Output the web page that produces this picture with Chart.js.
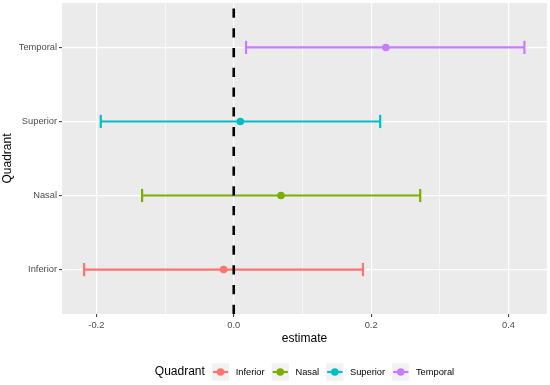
<!DOCTYPE html>
<html>
<head>
<meta charset="utf-8">
<script src="https://cdn.jsdelivr.net/npm/chart.js@4.4.1/dist/chart.umd.min.js"></script>
<style>
  html, body { margin: 0; padding: 0; background: #ffffff; }
  #wrap { width: 550px; height: 385px; }
</style>
</head>
<body>
<div id="wrap"><canvas id="c" width="550" height="385"></canvas></div>
<script>
// ---- data ----
const categories = ["Inferior", "Nasal", "Superior", "Temporal"];
const estimate   = [-0.0147, 0.0688, 0.0096, 0.2215];
const lower      = [-0.2178, -0.1334, -0.1936, 0.0179];
const upper      = [0.1881, 0.2714, 0.2132, 0.4231];
const colors     = ["#F8766D", "#7CAE00", "#00BFC4", "#C77CFF"];
const xTicks     = [-0.2, -0.1, 0.0, 0.1, 0.2, 0.3, 0.4];
const xMajor     = [-0.2, 0.0, 0.2, 0.4];
const refLine    = 0;

const FONT = "'Liberation Sans', Arial, sans-serif";
const isMajor = v => xMajor.some(m => Math.abs(m - v) < 1e-9);

// ---- datasets ----
const datasets = [];
// dashed reference line (on top)
datasets.push({
  type: 'line',
  data: [{x: refLine, y: 0.4}, {x: refLine, y: 4.6}],
  borderColor: '#000000',
  borderWidth: 2.6,
  borderDash: [9.3, 10.45],
  pointRadius: 0,
  order: 0
});
// estimate points
datasets.push({
  type: 'scatter',
  data: categories.map((c, i) => ({x: estimate[i], y: i + 1})),
  pointRadius: 3.8,
  pointBackgroundColor: colors,
  pointBorderWidth: 0,
  showLine: false,
  order: 1
});
// error bars with caps
categories.forEach((c, i) => {
  datasets.push({
    type: 'line',
    data: [{x: lower[i], y: i + 1}, {x: upper[i], y: i + 1}],
    borderColor: colors[i],
    borderWidth: 2.2,
    pointStyle: 'line',
    pointRotation: 90,
    pointRadius: 6.6,
    pointBorderWidth: 2.2,
    pointBorderColor: colors[i],
    pointHoverRadius: 6.6,
    order: 2
  });
});

// ---- plugins ----
const panelBg = {
  id: 'panelBg',
  beforeDraw(chart) {
    const {ctx, chartArea: a} = chart;
    ctx.save();
    ctx.fillStyle = '#EBEBEB';
    ctx.fillRect(a.left, a.top, a.right - a.left, a.bottom - a.top);
    ctx.restore();
  }
};

const ggLegend = {
  id: 'ggLegend',
  afterDraw(chart) {
    const {ctx, chartArea: a} = chart;
    const cy = 372;
    const key = 17.3;
    ctx.save();
    ctx.textBaseline = 'middle';
    ctx.font = `12px ${FONT}`;
    const titleW = ctx.measureText('Quadrant').width;
    ctx.font = `9.3px ${FONT}`;
    const textW = categories.map(t => ctx.measureText(t).width);
    let total = titleW;
    categories.forEach((t, i) => { total += 7 + key + 6.5 + textW[i]; });
    let x = (a.left + a.right) / 2 - total / 2;
    ctx.fillStyle = '#000000';
    ctx.font = `12px ${FONT}`;
    ctx.fillText('Quadrant', x, cy);
    x += titleW;
    categories.forEach((t, i) => {
      x += 7;
      ctx.fillStyle = '#F2F2F2';
      ctx.fillRect(x, cy - key / 2, key, key);
      ctx.strokeStyle = colors[i];
      ctx.lineWidth = 2.2;
      ctx.beginPath();
      ctx.moveTo(x + 1, cy);
      ctx.lineTo(x + key - 1, cy);
      ctx.stroke();
      ctx.fillStyle = colors[i];
      ctx.beginPath();
      ctx.arc(x + key / 2, cy, 3.8, 0, Math.PI * 2);
      ctx.fill();
      x += key + 6.5;
      ctx.fillStyle = '#000000';
      ctx.font = `9.3px ${FONT}`;
      ctx.fillText(t, x, cy);
      x += textW[i];
    });
    ctx.restore();
  }
};

function noPad(scale) {
  scale.paddingTop = 0; scale.paddingBottom = 0;
  scale.paddingLeft = 0; scale.paddingRight = 0;
}

// ---- chart ----
new Chart(document.getElementById('c'), {
  data: { datasets },
  options: {
    responsive: false,
    devicePixelRatio: 1,
    animation: false,
    layout: { autoPadding: false, padding: { top: 3, right: 3, left: 0, bottom: 38.5 } },
    plugins: {
      legend: { display: false },
      tooltip: { enabled: false }
    },
    scales: {
      x: {
        type: 'linear',
        position: 'bottom',
        min: -0.25,
        max: 0.456,
        afterBuildTicks(scale) { scale.ticks = xTicks.map(v => ({value: v})); },
        afterFit(scale) { scale.height = 32.5; noPad(scale); },
        border: { display: false },
        grid: {
          color: '#FFFFFF',
          lineWidth: ctx => isMajor(ctx.tick.value) ? 1.2 : 0.6,
          tickColor: ctx => isMajor(ctx.tick.value) ? '#333333' : 'rgba(0,0,0,0)',
          tickWidth: 1,
          tickLength: 3
        },
        ticks: {
          autoSkip: false,
          maxRotation: 0,
          padding: 3,
          color: '#4D4D4D',
          font: { family: FONT, size: 9.3 },
          callback: v => isMajor(v) ? v.toFixed(1) : ''
        },
        title: {
          display: true,
          text: 'estimate',
          color: '#000000',
          font: { family: FONT, size: 12 },
          padding: { top: 0, bottom: 1 }
        }
      },
      y: {
        type: 'linear',
        position: 'left',
        min: 0.4,
        max: 4.6,
        afterBuildTicks(scale) { scale.ticks = categories.map((c, i) => ({value: i + 1})); },
        afterFit(scale) { scale.width = 62; noPad(scale); },
        border: { display: false },
        grid: {
          color: '#FFFFFF',
          lineWidth: 1.2,
          tickColor: '#333333',
          tickWidth: 1,
          tickLength: 3
        },
        ticks: {
          autoSkip: false,
          padding: 2,
          color: '#4D4D4D',
          font: { family: FONT, size: 9.3 },
          callback: v => categories[Math.round(v) - 1] || ''
        },
        title: {
          display: true,
          text: 'Quadrant',
          color: '#000000',
          font: { family: FONT, size: 12 },
          padding: { top: 0, bottom: 0 }
        }
      }
    }
  },
  plugins: [panelBg, ggLegend]
});
</script>
</body>
</html>
